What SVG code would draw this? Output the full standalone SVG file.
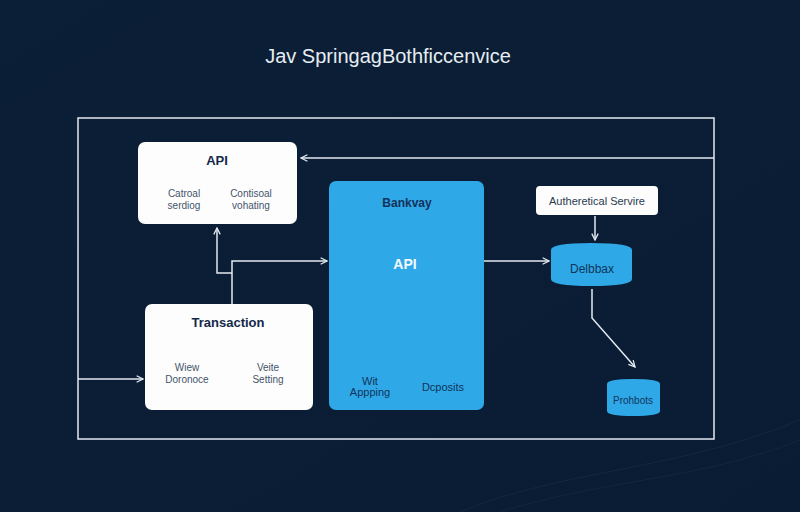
<svg xmlns="http://www.w3.org/2000/svg" width="800" height="512" viewBox="0 0 800 512">
<defs>
<linearGradient id="bg" x1="0" y1="0" x2="1" y2="1">
<stop offset="0" stop-color="#0b1f36"/>
<stop offset="1" stop-color="#0a1c33"/>
</linearGradient>
<marker id="ah" viewBox="0 0 10 10" refX="9" refY="5" markerWidth="8" markerHeight="8" markerUnits="userSpaceOnUse" orient="auto">
<path d="M1,1 L9,5 L1,9" fill="none" stroke="#e3e9f0" stroke-width="1.6"/>
</marker>
<style>
.wbox{fill:#fdfdfd;}
.bbox{fill:#2fa8e8;}
.ln{fill:none;stroke:#e3e9f0;stroke-width:1.5;}
.t{font-family:"Liberation Sans",Arial,sans-serif;text-anchor:middle;}
.h{font-weight:bold;font-size:13px;fill:#13284a;}
.s{font-size:10px;fill:#44546a;}
.d{font-size:11px;fill:#10355a;}
</style>
</defs>
<rect width="800" height="512" fill="url(#bg)"/>
<path d="M460,512 C560,470 680,470 800,420" fill="none" stroke="#16304d" stroke-width="1" opacity="0.6"/>
<path d="M500,512 C600,480 700,480 800,440" fill="none" stroke="#16304d" stroke-width="1" opacity="0.5"/>
<text class="t" x="388" y="63" font-size="20" fill="#e6edf3">Jav SpringagBothficcenvice</text>
<rect x="78" y="118" width="636" height="321" fill="none" stroke="#e3e9f0" stroke-width="1.5"/>
<g id="connectors">
<path class="ln" d="M714,158 H301" marker-end="url(#ah)"/>
<path class="ln" d="M232,304 V261 H327" marker-end="url(#ah)"/>
<path class="ln" d="M232,273 H217 V228" marker-end="url(#ah)"/>
<path class="ln" d="M484,261 H549" marker-end="url(#ah)"/>
<path class="ln" d="M595,216 V240" marker-end="url(#ah)"/>
<path class="ln" d="M592,289 V318 L635,367" marker-end="url(#ah)"/>
<path class="ln" d="M78,379 H143" marker-end="url(#ah)"/>
</g>
<g id="api">
<rect class="wbox" x="138" y="142" width="159" height="82" rx="7"/>
<text class="t h" x="217" y="165">API</text>
<text class="t s" x="184" y="197">Catroal</text>
<text class="t s" x="184" y="209">serdiog</text>
<text class="t s" x="251" y="197">Contisoal</text>
<text class="t s" x="251" y="209">vohating</text>
</g>
<g id="transaction">
<rect class="wbox" x="145" y="304" width="168" height="106" rx="7"/>
<text class="t h" x="228" y="327">Transaction</text>
<text class="t s" x="187" y="371">Wiew</text>
<text class="t s" x="187" y="383">Doronoce</text>
<text class="t s" x="268" y="371">Veite</text>
<text class="t s" x="268" y="383">Setting</text>
</g>
<g id="bankway">
<rect class="bbox" x="329" y="181" width="155" height="229" rx="7"/>
<text class="t" x="407" y="207" font-size="12" font-weight="bold" fill="#13325a">Bankvay</text>
<text class="t" x="405" y="269" font-size="14" font-weight="bold" fill="#f4fbff">API</text>
<text class="t d" x="370" y="385" fill="#12406a">Wit</text>
<text class="t d" x="370" y="396" fill="#12406a">Appping</text>
<text class="t d" x="443" y="391" fill="#12406a">Dcposits</text>
</g>
<g id="auth">
<rect class="wbox" x="536" y="186" width="122" height="29" rx="4"/>
<text class="t" x="597" y="205" font-size="11" fill="#2a3a50">Autheretical Servire</text>
</g>
<g id="database">
<path class="bbox" d="M551,250 Q551,243 591,243 Q632,243 632,250 V279 Q632,286 591,286 Q551,286 551,279 Z"/>
<text class="t" x="592" y="273" font-size="12" fill="#10355a">Delbbax</text>
</g>
<g id="products">
<path class="bbox" d="M607,384 Q607,379 633,379 Q660,379 660,384 V411 Q660,416 633,416 Q607,416 607,411 Z"/>
<text class="t" x="633" y="404" font-size="10" fill="#10355a">Prohbots</text>
</g>
</svg>
